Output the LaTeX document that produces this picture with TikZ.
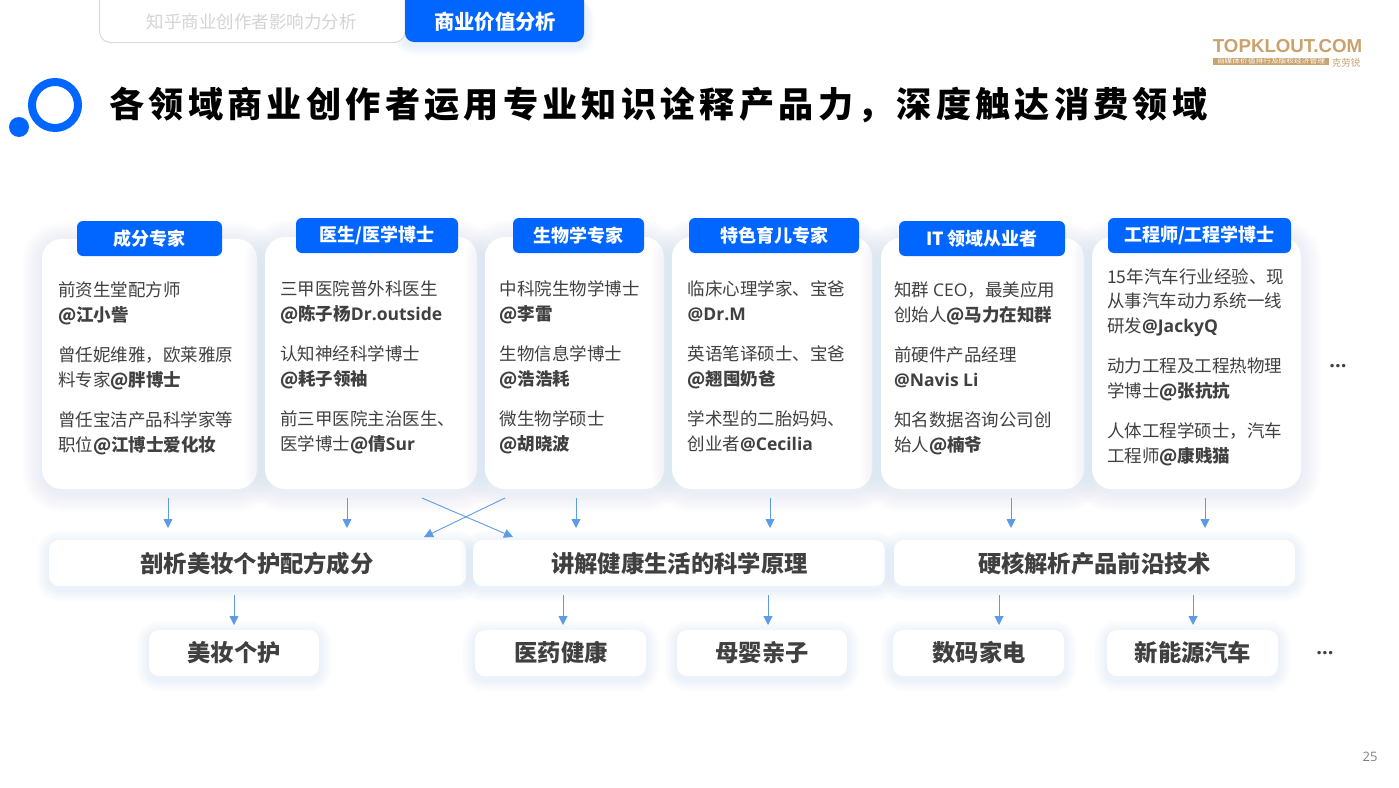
\documentclass[tikz,border=0pt]{standalone}
\usepackage{fontspec}
\setmainfont{Noto Sans CJK SC}
\newfontfamily\cjkheavy{Noto Sans CJK SC}[LetterSpace=12]
\newfontfamily\latb{Open Sans}
\newfontfamily\logofont{Liberation Sans}
\usetikzlibrary{arrows.meta}
\definecolor{brandblue}{HTML}{0066FF}
\definecolor{glow}{HTML}{8FB4F2}
\definecolor{ink}{HTML}{404040}
\definecolor{tan}{HTML}{C9A26D}
\definecolor{arrowblue}{HTML}{5E9BE6}
\newcommand{\glowlist}{20,18,...,2}
\newcommand{\glowop}{0.017}
\newcommand{\softcard}[6]{%
  \pgfmathsetmacro{\cx}{(#2+#4)/2}\pgfmathsetmacro{\cy}{(#3+#5)/2}%
  \pgfmathsetmacro{\cw}{#4-#2}\pgfmathsetmacro{\ch}{#5-#3}%
  \foreach \g in \glowlist {%
    \pgfmathsetmacro{\rr}{#6+\g}%
    \fill[glow,fill opacity=\glowop,rounded corners=\rr pt] (#2-\g,#3-\g+3) rectangle (#4+\g,#5+\g+3);}%
  \node[cardbox,rounded corners=#6pt,minimum width=\cw pt,minimum height=\ch pt] (#1) at (\cx,\cy) {};}
\newcommand{\conn}[5]{%
  \coordinate (#1s) at (#2,#3);\coordinate (#1e) at (#4,#5);
  \draw[flow] (#1s) -- (#1e);}
\newcommand{\B}[1]{\textbf{#1}}
\newcommand{\LB}[1]{{\latb\bfseries #1}}
\newcommand{\LR}[1]{{\latb #1}}
\begin{document}
\begin{tikzpicture}[x=1pt,y=-1pt,
  cardbox/.style={fill=white,inner sep=0pt,outer sep=0pt},
  tagbox/.style={fill=brandblue,inner sep=0pt,rounded corners=6pt,text=white,font=\fontsize{18}{18}\selectfont\bfseries},
  body/.style={anchor=west,inner sep=0pt,text=ink,font=\fontsize{17.5}{18}\selectfont,text height=16pt,text depth=2pt},
  midtext/.style={inner sep=0pt,text=ink,font=\fontsize{23.3}{24}\selectfont\bfseries},
  flow/.style={draw=arrowblue,line width=0.9pt,-{Triangle[width=9pt,length=9pt]}}]
\useasboundingbox (0,0) rectangle (1399,787);
\fill[white] (0,0) rectangle (1399,787);
% tabs
\foreach \g in {10,8,...,2}{\fill[glow,fill opacity=0.04,rounded corners=\g pt+8pt] (405-\g,0) rectangle (584+\g,42+\g+3);}
\draw[draw=black!15,line width=1pt,fill=white,rounded corners=11pt] (99.5,-12) rectangle (405,42.5);
\fill[brandblue,rounded corners=9pt] (405,-12) rectangle (584,42);
\node[inner sep=0pt,text=black!17,font=\fontsize{17.5}{18}\selectfont] (tabl) at (251.5,21.5) {知乎商业创作者影响力分析};
\node[inner sep=0pt,text=white,font=\fontsize{20.3}{21}\selectfont\bfseries] (tabr) at (495,21.5) {商业价值分析};
% logo
\draw[brandblue,line width=8pt] (55,105) circle (23);
\fill[brandblue] (19,127) circle (10);
\node[inner sep=0pt,text=black,font=\fontsize{35.15}{36}\cjkheavy\bfseries] (title) at (658.5,105) {各领域商业创作者运用专业知识诠释产品力，深度触达消费领域};
% topklout
\node[inner sep=0pt,text=tan,font=\fontsize{18.7}{19}\logofont\bfseries] (brand) at (1287.5,46) {TOPKLOUT.COM};
\node[fill=tan,inner sep=0pt,minimum width=116pt,minimum height=7pt,text=white,font=\fontsize{6}{6}\selectfont] (band) at (1271,61.5) {\resizebox{108pt}{5pt}{自媒体价值排行及版权经济管理}};
\node[inner sep=0pt,text=tan,font=\fontsize{9.5}{10}\selectfont] (kr) at (1346,62.5) {克劳锐};
% cards
\softcard{c1}{42}{239}{257}{489}{20}
\softcard{c2}{265}{237}{477}{489}{20}
\softcard{c3}{485}{237}{664}{489}{20}
\softcard{c4}{672}{237}{872}{489}{20}
\softcard{c5}{881}{238}{1084}{489}{20}
\softcard{c6}{1092}{237}{1301}{489}{20}
% tags
\node[tagbox,minimum width=145pt,minimum height=35pt] (t1) at (149.5,238.5) {成分专家};
\node[tagbox,minimum width=162pt,minimum height=35pt] (t2) at (377,235.5) {医生/医学博士};
\node[tagbox,minimum width=131pt,minimum height=35pt] (t3) at (578.5,235.5) {生物学专家};
\node[tagbox,minimum width=170pt,minimum height=35pt] (t4) at (774,235.5) {特色育儿专家};
\node[tagbox,minimum width=166pt,minimum height=35pt] (t5) at (982,238.5) {IT 领域从业者};
\node[tagbox,minimum width=183pt,minimum height=35pt] (t6) at (1199.5,235.5) {工程师/工程学博士};
% card 1
\node[body] (a1) at (58,289) {前资生堂配方师};
\node[body] (a2) at (58,314) {\B{@江小訾}};
\node[body] (a3) at (58,354) {曾任妮维雅，欧莱雅原};
\node[body] (a4) at (58,379) {料专家\B{@胖博士}};
\node[body] (a5) at (58,419) {曾任宝洁产品科学家等};
\node[body] (a6) at (58,444) {职位\B{@江博士爱化妆}};
% card 2
\node[body] (b1) at (280,288) {三甲医院普外科医生};
\node[body] (b2) at (280,313) {\B{@陈子杨}\LB{Dr.outside}};
\node[body] (b3) at (280,353) {认知神经科学博士};
\node[body] (b4) at (280,378) {\B{@耗子领袖}};
\node[body] (b5) at (280,418) {前三甲医院主治医生、};
\node[body] (b6) at (280,443) {医学博士\B{@倩}\LB{Sur}};
% card 3
\node[body] (d1) at (499.5,288) {中科院生物学博士};
\node[body] (d2) at (499.5,313) {\B{@李雷}};
\node[body] (d3) at (499.5,353) {生物信息学博士};
\node[body] (d4) at (499.5,378) {\B{@浩浩耗}};
\node[body] (d5) at (499.5,418) {微生物学硕士};
\node[body] (d6) at (499.5,443) {\B{@胡晓波}};
% card 4
\node[body] (e1) at (687.5,288) {临床心理学家、宝爸};
\node[body] (e2) at (687.5,313) {\LB{@Dr.M}};
\node[body] (e3) at (687.5,353) {英语笔译硕士、宝爸};
\node[body] (e4) at (687.5,378) {\B{@翘囤奶爸}};
\node[body] (e5) at (687.5,418) {学术型的二胎妈妈、};
\node[body] (e6) at (687.5,443) {创业者\LB{@Cecilia}};
% card 5
\node[body] (f1) at (894,289) {知群 \LR{CEO}，最美应用};
\node[body] (f2) at (894,314) {创始人\B{@马力在知群}};
\node[body] (f3) at (894,354) {前硬件产品经理};
\node[body] (f4) at (894,379) {\LB{@Navis Li}};
\node[body] (f5) at (894,419) {知名数据咨询公司创};
\node[body] (f6) at (894,444) {始人\B{@楠爷}};
% card 6
\node[body] (g1) at (1107,276) {15年汽车行业经验、现};
\node[body] (g2) at (1107,300) {从事汽车动力系统一线};
\node[body] (g3) at (1107,325) {研发\LB{@JackyQ}};
\node[body] (g4) at (1107,365) {动力工程及工程热物理};
\node[body] (g5) at (1107,390) {学博士\B{@张抗抗}};
\node[body] (g6) at (1107,430) {人体工程学硕士，汽车};
\node[body] (g7) at (1107,455) {工程师\B{@康贱猫}};
\node[inner sep=0pt,text=ink,font=\fontsize{20}{20}\latb\bfseries] (dots1) at (1338,366) {...};
% middle row
\renewcommand{\glowlist}{12,10,...,2}
\renewcommand{\glowop}{0.028}
\softcard{m1}{49}{540}{466}{586}{10}
\softcard{m2}{473}{540}{885}{586}{10}
\softcard{m3}{894}{540}{1295}{586}{10}
\node[midtext] (m1t) at (257,564) {剖析美妆个护配方成分};
\node[midtext] (m2t) at (679.5,564) {讲解健康生活的科学原理};
\node[midtext] (m3t) at (1094.5,564) {硬核解析产品前沿技术};
% bottom row
\softcard{n1}{149}{630}{319}{676}{10}
\softcard{n2}{475}{630}{646}{676}{10}
\softcard{n3}{677}{630}{847}{676}{10}
\softcard{n4}{893}{630}{1064}{676}{10}
\softcard{n5}{1107}{630}{1278}{676}{10}
\node[midtext] (n1t) at (234,653) {美妆个护};
\node[midtext] (n2t) at (561,653) {医药健康};
\node[midtext] (n3t) at (762,653) {母婴亲子};
\node[midtext] (n4t) at (979,653) {数码家电};
\node[midtext] (n5t) at (1193,653) {新能源汽车};
\node[inner sep=0pt,text=ink,font=\fontsize{20}{20}\latb\bfseries] (dots2) at (1325,653) {...};
% connectors
\conn{p1}{168}{498}{168}{528}
\conn{p2}{347}{498}{347}{528}
\conn{p3}{422}{498}{513}{537}
\conn{p4}{505}{498}{424}{537}
\conn{p5}{576}{498}{576}{528}
\conn{p6}{770}{498}{770}{528}
\conn{p7}{1011}{498}{1011}{528}
\conn{p8}{1205}{498}{1205}{528}
\conn{q1}{234}{595}{234}{625}
\conn{q2}{563}{595}{563}{625}
\conn{q3}{768}{595}{768}{625}
\conn{q4}{999}{595}{999}{625}
\conn{q5}{1193}{595}{1193}{625}
\node[inner sep=0pt,text=black!50,font=\fontsize{13}{13}\latb] (pg) at (1370,757) {25};
\end{tikzpicture}
\end{document}
